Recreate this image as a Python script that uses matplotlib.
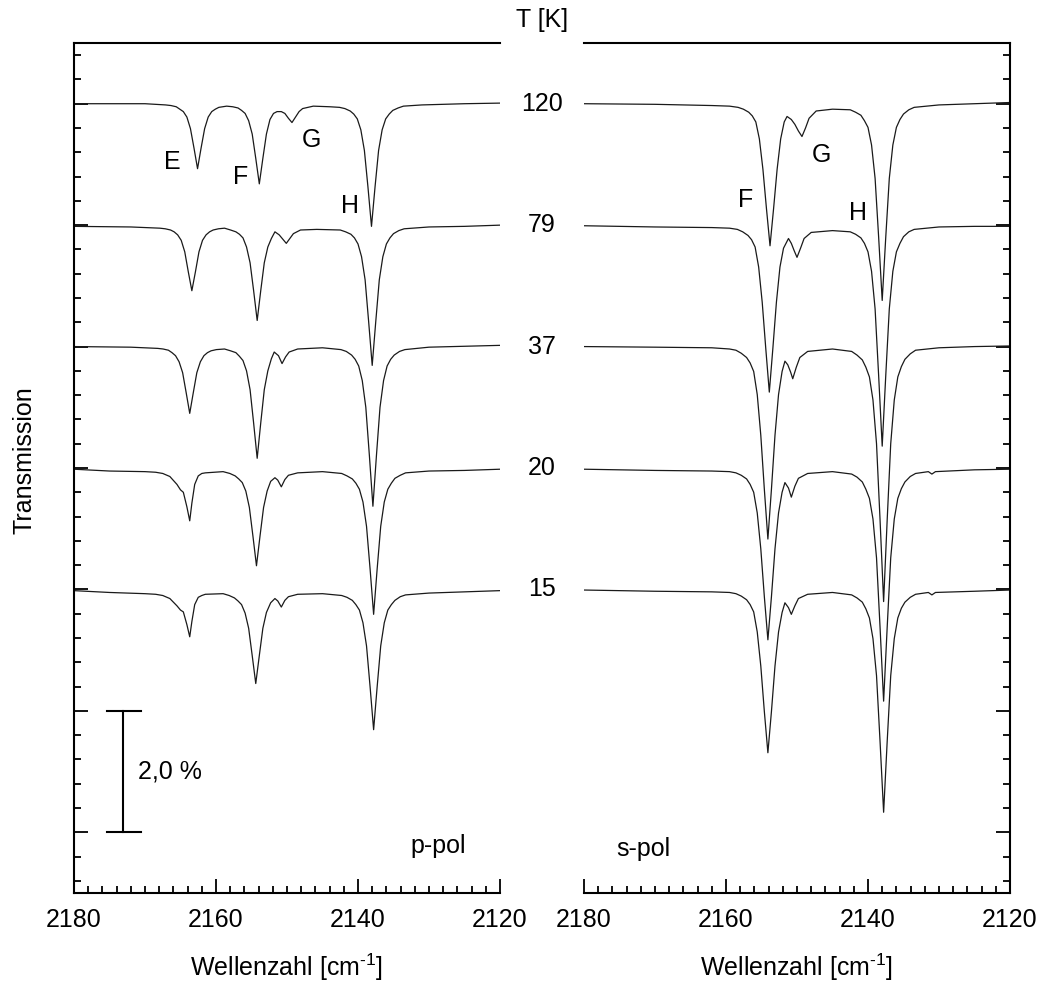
import matplotlib.pyplot as plt
from matplotlib.ticker import MultipleLocator
from matplotlib.transforms import blended_transform_factory

plt.rcParams['font.family'] = ['Liberation Sans', 'DejaVu Sans']
plt.rcParams['mathtext.fontset'] = 'custom'
plt.rcParams['mathtext.rm'] = 'Liberation Sans'
FS = 18

# Temperaturen [K] und vertikaler Versatz der Spektren [%]
temps = [120, 79, 37, 20, 15]
offsets = [8, 6, 4, 2, 0]

# p-pol Spektren: Wellenzahl [cm^-1] und Transmissionsänderung [%]
p120_wn = [2180, 2170, 2167.1, 2166.35, 2165.6, 2165.1, 2164.6, 2164.1, 2163.6, 2163.1, 2162.6, 2162.1,
           2161.6, 2161.1, 2160.6, 2160.1, 2159.6, 2158.5, 2157.65, 2156.9, 2156.4, 2155.9, 2155.4,
           2154.9, 2154.4, 2153.9, 2153.4, 2152.9, 2152.4, 2151.9, 2151.4, 2150.8, 2150.3, 2149.8,
           2149.3, 2148.8, 2148.3, 2147.8, 2146.3, 2144, 2142.6, 2141.85, 2141.1, 2140.6, 2140.1,
           2139.6, 2139.1, 2138.6, 2138.1, 2137.6, 2137.1, 2136.6, 2136.1, 2135.6, 2135.1, 2134.35,
           2133.6, 2131, 2125, 2120]
p120_t = [0.0, 0.0, -0.02, -0.03, -0.05, -0.09, -0.13, -0.22, -0.41, -0.73, -1.07, -0.73,
          -0.41, -0.22, -0.13, -0.09, -0.06, -0.04, -0.05, -0.07, -0.11, -0.16, -0.28,
          -0.50, -0.90, -1.32, -0.90, -0.50, -0.26, -0.16, -0.13, -0.13, -0.16, -0.24,
          -0.31, -0.22, -0.13, -0.08, -0.04, -0.05, -0.06, -0.08, -0.12, -0.17, -0.25,
          -0.43, -0.77, -1.37, -2.02, -1.37, -0.77, -0.43, -0.25, -0.17, -0.11, -0.07,
          -0.04, -0.02, 0.0, 0.01]

p79_wn = [2180, 2172, 2167.9, 2167.15, 2166.4, 2165.9, 2165.4, 2164.9, 2164.4, 2163.9, 2163.4, 2162.9,
          2162.4, 2161.9, 2161.4, 2160.9, 2160.4, 2159.65, 2158.8, 2157.95, 2157.2, 2156.7, 2156.2,
          2155.7, 2155.2, 2154.7, 2154.2, 2153.7, 2153.2, 2152.7, 2152.2, 2151.7, 2151.1, 2150.6,
          2150.1, 2149.6, 2149.1, 2148.1, 2145.8, 2142.5, 2141.75, 2141.0, 2140.5, 2140.0, 2139.5,
          2139.0, 2138.5, 2138.0, 2137.5, 2137.0, 2136.5, 2136.0, 2135.5, 2135.0, 2134.25, 2133.5,
          2130, 2125, 2120]
p79_t = [-0.02, -0.03, -0.05, -0.06, -0.08, -0.11, -0.16, -0.25, -0.44, -0.77, -1.08, -0.77,
         -0.44, -0.25, -0.16, -0.11, -0.08, -0.06, -0.05, -0.08, -0.11, -0.15, -0.21,
         -0.36, -0.62, -1.08, -1.57, -1.08, -0.62, -0.36, -0.22, -0.11, -0.16, -0.23,
         -0.30, -0.22, -0.14, -0.08, -0.07, -0.08, -0.11, -0.15, -0.21, -0.31, -0.52,
         -0.90, -1.59, -2.31, -1.59, -0.90, -0.52, -0.31, -0.21, -0.14, -0.09, -0.06,
         -0.03, -0.02, 0.0]

p37_wn = [2180, 2172, 2168.2, 2167.45, 2166.7, 2166.2, 2165.7, 2165.2, 2164.7, 2164.2, 2163.7, 2163.2,
          2162.7, 2162.2, 2161.7, 2161.2, 2160.7, 2159.95, 2158.8, 2157.95, 2157.2, 2156.7, 2156.2,
          2155.7, 2155.2, 2154.7, 2154.2, 2153.7, 2153.2, 2152.7, 2152.2, 2151.8, 2151.2, 2150.7,
          2150.2, 2149.7, 2148.5, 2145, 2142.4, 2141.65, 2140.9, 2140.4, 2139.9, 2139.4, 2138.9,
          2138.4, 2137.9, 2137.4, 2136.9, 2136.4, 2135.9, 2135.4, 2134.9, 2134.15, 2133.4, 2130,
          2120]
p37_t = [0.0, -0.01, -0.03, -0.04, -0.06, -0.10, -0.15, -0.25, -0.43, -0.76, -1.10, -0.76,
         -0.43, -0.25, -0.15, -0.10, -0.07, -0.05, -0.04, -0.07, -0.10, -0.16, -0.23,
         -0.40, -0.71, -1.26, -1.84, -1.26, -0.71, -0.40, -0.20, -0.09, -0.15, -0.28,
         -0.17, -0.09, -0.04, -0.02, -0.05, -0.08, -0.14, -0.21, -0.32, -0.56, -1.00,
         -1.79, -2.63, -1.79, -1.00, -0.56, -0.32, -0.21, -0.14, -0.08, -0.05, -0.01,
         0.02]

p20_wn = [2180, 2175, 2170, 2168.5, 2167.5, 2166.5, 2165.5, 2165.0, 2164.6, 2164.1, 2163.7, 2163.4,
          2163.0, 2162.5, 2162.0, 2161.5, 2159, 2158.05, 2157.3, 2156.8, 2156.3, 2155.8, 2155.3,
          2154.8, 2154.3, 2153.8, 2153.3, 2152.8, 2152.3, 2151.7, 2151.3, 2150.8, 2150.3, 2149.8,
          2148.5, 2145, 2142.3, 2141.55, 2140.8, 2140.3, 2139.8, 2139.3, 2138.8, 2138.3, 2137.8,
          2137.3, 2136.8, 2136.3, 2135.8, 2135.3, 2134.8, 2134.05, 2133.3, 2130, 2125, 2120]
p20_t = [-0.02, -0.05, -0.06, -0.07, -0.09, -0.14, -0.27, -0.36, -0.40, -0.64, -0.87, -0.58,
         -0.27, -0.13, -0.09, -0.08, -0.06, -0.09, -0.13, -0.18, -0.24, -0.38, -0.65,
         -1.12, -1.61, -1.12, -0.65, -0.38, -0.22, -0.16, -0.20, -0.31, -0.19, -0.12,
         -0.08, -0.06, -0.09, -0.13, -0.18, -0.25, -0.35, -0.56, -0.96, -1.66, -2.41,
         -1.66, -0.96, -0.56, -0.35, -0.25, -0.17, -0.12, -0.08, -0.05, -0.04, -0.02]

p15_wn = [2180, 2175, 2170, 2168.5, 2167.5, 2166.5, 2165.5, 2165.0, 2164.6, 2164.1, 2163.7, 2163.4,
          2163.0, 2162.5, 2162.0, 2161.5, 2159, 2158.15, 2157.4, 2156.9, 2156.4, 2155.9, 2155.4,
          2154.9, 2154.4, 2153.9, 2153.4, 2152.9, 2152.3, 2151.7, 2151.3, 2150.8, 2150.3, 2149.8,
          2148.5, 2145, 2142.3, 2141.55, 2140.8, 2140.3, 2139.8, 2139.3, 2138.8, 2138.3, 2137.8,
          2137.3, 2136.8, 2136.3, 2135.8, 2135.3, 2134.8, 2134.05, 2133.3, 2130, 2125, 2120]
p15_t = [-0.02, -0.05, -0.07, -0.08, -0.10, -0.15, -0.27, -0.34, -0.37, -0.58, -0.78, -0.53,
         -0.25, -0.13, -0.10, -0.08, -0.07, -0.10, -0.14, -0.19, -0.25, -0.39, -0.64,
         -1.09, -1.55, -1.09, -0.64, -0.38, -0.22, -0.15, -0.19, -0.29, -0.18, -0.12,
         -0.08, -0.07, -0.10, -0.13, -0.18, -0.25, -0.34, -0.55, -0.93, -1.60, -2.31,
         -1.60, -0.93, -0.55, -0.34, -0.25, -0.18, -0.12, -0.09, -0.06, -0.04, -0.02]

# s-pol Spektren
s120_wn = [2180, 2170, 2162, 2159.5, 2158.3, 2157.55, 2156.8, 2156.3, 2155.8, 2155.3, 2154.8, 2154.3,
           2153.8, 2153.3, 2152.8, 2152.3, 2151.8, 2151.4, 2150.8, 2150.3, 2149.8, 2149.3, 2148.8,
           2148.3, 2147.3, 2145, 2142.5, 2141.75, 2141.0, 2140.5, 2140.0, 2139.5, 2139.0, 2138.5,
           2138.0, 2137.5, 2137.0, 2136.5, 2136.0, 2135.5, 2135.0, 2134.25, 2133.5, 2130, 2125, 2120]
s120_t = [0.0, -0.01, -0.03, -0.04, -0.06, -0.09, -0.14, -0.20, -0.30, -0.58, -1.08, -1.73,
          -2.34, -1.73, -1.08, -0.58, -0.30, -0.21, -0.26, -0.34, -0.45, -0.54, -0.40,
          -0.24, -0.12, -0.09, -0.10, -0.14, -0.19, -0.28, -0.39, -0.68, -1.23, -2.20,
          -3.24, -2.20, -1.23, -0.68, -0.39, -0.26, -0.17, -0.10, -0.06, -0.02, 0.0, 0.02]

s79_wn = [2180, 2170, 2162, 2159.5, 2158.4, 2157.65, 2156.9, 2156.4, 2155.9, 2155.4, 2154.9, 2154.4,
          2153.9, 2153.4, 2152.9, 2152.4, 2151.9, 2151.2, 2150.8, 2150.4, 2150.0, 2149.5, 2149.0,
          2148, 2145, 2142.5, 2141.75, 2141.0, 2140.5, 2140.0, 2139.5, 2139.0, 2138.5, 2138.0,
          2137.5, 2137.0, 2136.5, 2136.0, 2135.5, 2135.0, 2134.25, 2133.5, 2130, 2125, 2120]
s79_t = [-0.01, -0.03, -0.04, -0.05, -0.07, -0.11, -0.17, -0.24, -0.36, -0.69, -1.27, -2.03,
         -2.75, -2.03, -1.27, -0.69, -0.38, -0.22, -0.30, -0.42, -0.53, -0.38, -0.22,
         -0.12, -0.09, -0.11, -0.15, -0.21, -0.30, -0.44, -0.76, -1.38, -2.48, -3.64,
         -2.48, -1.38, -0.76, -0.44, -0.30, -0.19, -0.11, -0.07, -0.03, -0.02, -0.02]

s37_wn = [2180, 2170, 2162, 2159.5, 2158.6, 2157.85, 2157.1, 2156.6, 2156.1, 2155.6, 2155.1, 2154.6,
          2154.1, 2153.6, 2153.1, 2152.6, 2152.1, 2151.7, 2151.3, 2150.9, 2150.6, 2150.1, 2149.6,
          2148.5, 2145, 2142.3, 2141.55, 2140.8, 2140.3, 2139.8, 2139.3, 2138.8, 2138.3, 2137.8,
          2137.3, 2136.8, 2136.3, 2135.8, 2135.3, 2134.8, 2134.05, 2133.3, 2130, 2125, 2120]
s37_t = [0.0, -0.01, -0.02, -0.04, -0.06, -0.11, -0.18, -0.27, -0.41, -0.79, -1.46, -2.35,
         -3.17, -2.35, -1.46, -0.79, -0.41, -0.24, -0.30, -0.42, -0.53, -0.34, -0.18,
         -0.08, -0.04, -0.08, -0.14, -0.22, -0.34, -0.50, -0.88, -1.60, -2.86, -4.20,
         -2.86, -1.60, -0.88, -0.50, -0.33, -0.21, -0.12, -0.06, -0.02, 0.0, 0.01]

s20_wn = [2180, 2170, 2162, 2159.5, 2158.6, 2157.85, 2157.1, 2156.6, 2156.1, 2155.6, 2155.1, 2154.6,
          2154.1, 2153.6, 2153.1, 2152.6, 2152.1, 2151.7, 2151.2, 2150.8, 2150.3, 2149.8, 2148.5,
          2145, 2142.3, 2141.55, 2140.8, 2140.3, 2139.8, 2139.3, 2138.8, 2138.3, 2137.8, 2137.3,
          2136.8, 2136.3, 2135.8, 2135.3, 2134.8, 2134.05, 2133.3, 2131.5, 2131.0, 2130.5, 2125, 2120]
s20_t = [-0.02, -0.04, -0.05, -0.06, -0.08, -0.12, -0.18, -0.27, -0.40, -0.74, -1.33, -2.12,
         -2.83, -2.12, -1.33, -0.74, -0.40, -0.24, -0.33, -0.48, -0.30, -0.17, -0.09,
         -0.06, -0.10, -0.15, -0.23, -0.35, -0.50, -0.84, -1.48, -2.63, -3.84, -2.63,
         -1.48, -0.84, -0.50, -0.34, -0.23, -0.14, -0.09, -0.06, -0.10, -0.06, -0.03, -0.02]

s15_wn = [2180, 2170, 2162, 2159.5, 2158.6, 2157.85, 2157.1, 2156.6, 2156.1, 2155.6, 2155.1, 2154.6,
          2154.1, 2153.6, 2153.1, 2152.6, 2152.1, 2151.7, 2151.2, 2150.8, 2150.3, 2149.8, 2148.5,
          2145, 2142.3, 2141.55, 2140.8, 2140.3, 2139.8, 2139.3, 2138.8, 2138.3, 2137.8, 2137.3,
          2136.8, 2136.3, 2135.8, 2135.3, 2134.8, 2134.05, 2133.3, 2131.5, 2131.0, 2130.5, 2125, 2120]
s15_t = [-0.01, -0.03, -0.04, -0.05, -0.07, -0.11, -0.17, -0.25, -0.37, -0.70, -1.26, -2.01,
         -2.69, -2.01, -1.26, -0.70, -0.38, -0.22, -0.30, -0.41, -0.27, -0.15, -0.08,
         -0.05, -0.09, -0.14, -0.21, -0.32, -0.47, -0.81, -1.42, -2.51, -3.67, -2.51,
         -1.42, -0.81, -0.47, -0.31, -0.21, -0.13, -0.08, -0.05, -0.09, -0.05, -0.03, -0.01]

p_spectra = [(p120_wn, p120_t), (p79_wn, p79_t), (p37_wn, p37_t), (p20_wn, p20_t), (p15_wn, p15_t)]
s_spectra = [(s120_wn, s120_t), (s79_wn, s79_t), (s37_wn, s37_t), (s20_wn, s20_t), (s15_wn, s15_t)]

# Bandenbezeichnungen: (Wellenzahl, Transmission, Text)
p_bands = [(2166.2, 7.04, 'E'), (2156.6, 6.79, 'F'), (2146.6, 7.40, 'G'), (2141.1, 6.32, 'H')]
s_bands = [(2157.2, 6.41, 'F'), (2146.6, 7.15, 'G'), (2141.4, 6.20, 'H')]

fig = plt.figure(figsize=(10.45, 9.91), dpi=100)
W, H = 1045, 991
axL = fig.add_axes([74 / W, 1 - 893 / H, 426 / W, 850 / H])
axR = fig.add_axes([584 / W, 1 - 893 / H, 426 / W, 850 / H])

for ax, spectra in ((axL, p_spectra), (axR, s_spectra)):
    for (wn, tr), off in zip(spectra, offsets):
        ax.plot(wn, [v + off for v in tr], color='#1a1a1a', lw=0.9)
    ax.set_xlim(2180, 2120)
    ax.set_ylim(-5, 9)
    ax.xaxis.set_major_locator(MultipleLocator(20))
    ax.xaxis.set_minor_locator(MultipleLocator(2))
    ax.yaxis.set_major_locator(MultipleLocator(2))
    ax.yaxis.set_minor_locator(MultipleLocator(0.4))
    ax.tick_params(which='both', direction='in', width=1.3, top=False, labelsize=FS)
    ax.tick_params(which='major', length=10, pad=11)
    ax.tick_params(which='minor', length=5)
    ax.set_yticklabels([])
    ax.set_xlabel(r'Wellenzahl [cm$^{\text{-1}}$]', fontsize=FS, labelpad=14)
    for sp in ax.spines.values():
        sp.set_linewidth(1.5)

axL.spines['right'].set_visible(False)
axL.tick_params(axis='y', which='both', left=True, right=False)
axR.spines['left'].set_visible(False)
axR.tick_params(axis='y', which='both', left=False, right=True)
axR.tick_params(axis='y', labelright=False, labelleft=False)

for x, y, s in p_bands:
    axL.text(x, y, s, fontsize=FS, ha='center', va='center')
for x, y, s in s_bands:
    axR.text(x, y, s, fontsize=FS, ha='center', va='center')

# Maßstab 2,0 %
axL.plot([2173.05, 2173.05], [-2, -4], color='k', lw=1.5)
axL.plot([2175.4, 2170.6], [-2, -2], color='k', lw=1.5)
axL.plot([2175.4, 2170.6], [-4, -4], color='k', lw=1.5)
axL.text(2171.0, -3.0, '2,0 %', fontsize=FS, ha='left', va='center')

axL.text(2128.7, -4.23, 'p-pol', fontsize=FS, ha='center', va='center')
axR.text(2171.7, -4.28, 's-pol', fontsize=FS, ha='center', va='center')

# Temperaturen zwischen den Teilbildern
tr_mid = blended_transform_factory(fig.transFigure, axL.transData)
for t, off in zip(temps, offsets):
    axL.text(542 / W, off, str(t), transform=tr_mid, fontsize=FS, ha='center', va='center',
             clip_on=False)
fig.text(542 / W, 1 - 20 / H, 'T [K]', fontsize=FS, ha='center', va='center')
fig.text(25 / W, 1 - 460 / H, 'Transmission', fontsize=FS, rotation=90, ha='center', va='center')

fig.savefig('out.png', dpi=100)
